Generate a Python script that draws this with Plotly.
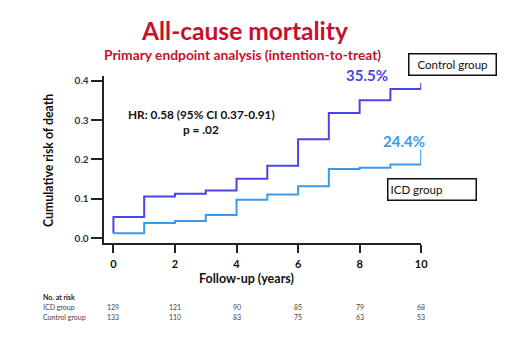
import plotly.graph_objects as go

W, H = 513, 350

years = [0, 1, 2, 3, 4, 5, 6, 7, 8, 9, 10]
control_risk = [0.054, 0.106, 0.113, 0.121, 0.151, 0.184, 0.251, 0.318, 0.350, 0.379, 0.394]
icd_risk = [0.013, 0.039, 0.044, 0.059, 0.098, 0.111, 0.132, 0.176, 0.179, 0.187, 0.226]
control_start = 0.013

x_ticks = [0, 2, 4, 6, 8, 10]
y_ticks = [0.0, 0.1, 0.2, 0.3, 0.4]
y_tick_labels = ["0.0", "0.1", "0.2", "0.3", "0.4"]
at_risk_icd = [129, 121, 90, 85, 79, 68]
at_risk_control = [133, 110, 83, 75, 63, 53]

CONTROL_COLOR = "#4a45e6"
ICD_COLOR = "#3a9be9"
RED = "#c8102e"
FONT = "Lato"


def px(x):
    return x / W


def py(y):
    return 1 - y / H


def label(text, x, y, size, color="#111", **kw):
    d = dict(text=text, x=px(x), y=py(y), xref="paper", yref="paper", showarrow=False,
             xanchor="center", yanchor="middle", font=dict(family=FONT, size=size, color=color))
    d.update(kw)
    return d


fig = go.Figure()
fig.add_trace(go.Scatter(
    x=[years[0]] + years, y=[control_start] + control_risk, mode="lines",
    line=dict(color=CONTROL_COLOR, width=2, shape="hv"), showlegend=False,
    hoverinfo="skip"))
fig.add_trace(go.Scatter(
    x=years, y=icd_risk, mode="lines",
    line=dict(color=ICD_COLOR, width=2, shape="hv"), showlegend=False,
    hoverinfo="skip"))

ann = []
ann.append(label("<b>All-cause mortality</b>", 248, 29, 24.5, RED))
ann.append(label("<b>Primary endpoint analysis (intention-to-treat)</b>", 246, 53, 13.8, RED))
ann.append(label("<b>HR: 0.58 (95% CI 0.37-0.91)</b>", 204, 113, 11.8))
ann.append(label("<b>p = .02</b>", 204, 129, 11.8))
ann.append(label("<b>35.5%</b>", 372, 74, 15, CONTROL_COLOR))
ann.append(label("<b>24.4%</b>", 410, 140, 15, ICD_COLOR))
ann.append(label("Control group", 459, 63, 11.5, width=82, height=16, bordercolor="#111",
                 borderwidth=1.5, borderpad=2))
ann.append(label("ICD group", 438, 189.5, 11.5, width=83, height=16, align="left",
                 bordercolor="#111", borderwidth=1.5, borderpad=2))
ann.append(label("<b>Cumulative risk of death</b>", 49, 160, 12.3, textangle=-90))
ann.append(label("<b>Follow-up (years)</b>", 250, 278.5, 12.5))
ann.append(label("<b>No. at risk</b>", 42, 298, 7, "#222", xanchor="left"))
ann.append(label("ICD group", 42, 308, 7, "#444", xanchor="left"))
ann.append(label("Control group", 42, 318, 7, "#444", xanchor="left"))
for t, a, c in zip(x_ticks, at_risk_icd, at_risk_control):
    ann.append(dict(text=str(a), x=t, y=py(308), xref="x", yref="paper", showarrow=False,
                    xanchor="center", yanchor="middle",
                    font=dict(family=FONT, size=7, color="#444")))
    ann.append(dict(text=str(c), x=t, y=py(318), xref="x", yref="paper", showarrow=False,
                    xanchor="center", yanchor="middle",
                    font=dict(family=FONT, size=7, color="#444")))

fig.update_layout(
    width=W, height=H, margin=dict(l=0, r=0, t=0, b=0),
    paper_bgcolor="white", plot_bgcolor="white",
    annotations=ann,
    xaxis=dict(domain=[px(105), px(427)], range=[-0.32, 10], tickvals=x_ticks,
               ticktext=[f"<b>{t}</b>" for t in x_ticks],
               showline=True, linecolor="#222", linewidth=2, ticks="outside", ticklen=8,
               tickwidth=2, tickcolor="#222", showgrid=False, zeroline=False,
               ticklabelstandoff=2,
               tickfont=dict(family=FONT, size=11, color="#111")),
    yaxis=dict(domain=[py(243), py(75)], range=[-0.0118, 0.4108], tickvals=y_ticks,
               ticktext=[f"<b>{t}</b>" for t in y_tick_labels],
               showline=True, linecolor="#222", linewidth=2, ticks="outside", ticklen=11,
               tickwidth=2, tickcolor="#222", showgrid=False, zeroline=False,
               tickfont=dict(family=FONT, size=10, color="#333")),
)

fig.write_html("out.html")
